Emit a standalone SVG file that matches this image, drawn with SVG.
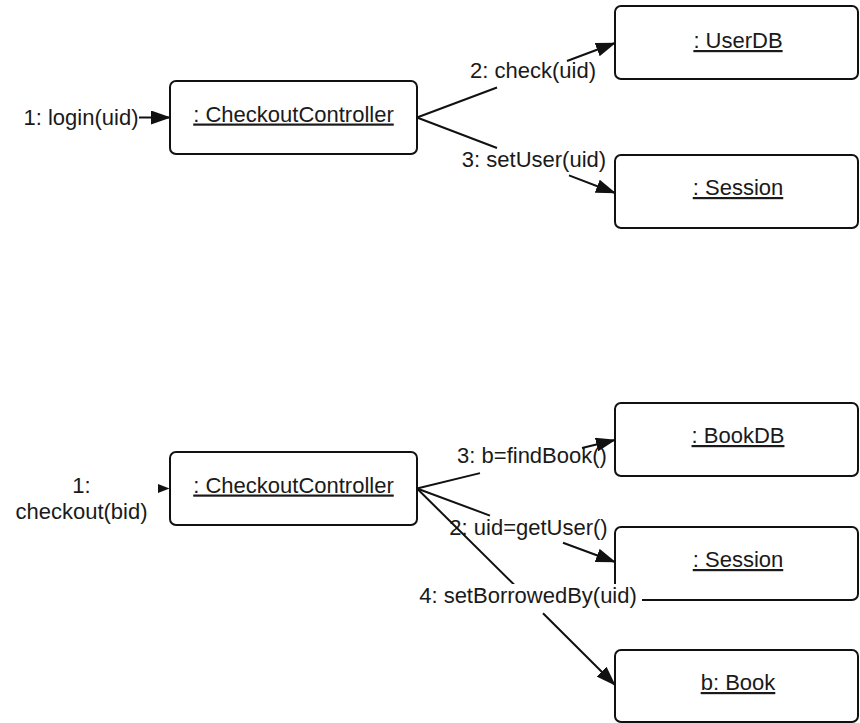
<svg xmlns="http://www.w3.org/2000/svg" width="860" height="723" viewBox="0 0 860 723">
<style>
.box{fill:#fff;stroke:#111;stroke-width:2}
.name{font-family:"Liberation Sans",Arial,sans-serif;font-size:22px;fill:#1a1a1a;text-anchor:middle;text-decoration:underline}
.lbl{font-family:"Liberation Sans",Arial,sans-serif;font-size:22px;fill:#1a1a1a;text-anchor:middle}
.con{fill:none;stroke:#111;stroke-width:2;marker-end:url(#arr)}
</style>
<defs>
<marker id="arr" viewBox="0 0 20 14" refX="19" refY="7" markerWidth="20" markerHeight="14" markerUnits="userSpaceOnUse" orient="auto">
<path d="M0,0 L20,7 L0,14 z" fill="#111"/>
</marker>
</defs>
<rect width="860" height="723" fill="#fff"/>

<g id="ctrl1"><rect class="box" x="170" y="81" width="247" height="73" rx="6"/><text class="name" x="293.5" y="121.5">: CheckoutController</text></g>
<g id="userdb"><rect class="box" x="615" y="6" width="243" height="73" rx="6"/><text class="name" x="738" y="48">: UserDB</text></g>
<g id="session1"><rect class="box" x="615" y="155" width="243" height="73" rx="6"/><text class="name" x="738" y="195">: Session</text></g>

<g id="ctrl2"><rect class="box" x="170" y="452" width="247" height="73" rx="6"/><text class="name" x="293.5" y="492.5">: CheckoutController</text></g>
<g id="bookdb"><rect class="box" x="615" y="403" width="243" height="73" rx="6"/><text class="name" x="738" y="443">: BookDB</text></g>
<g id="session2"><rect class="box" x="615" y="527" width="243" height="73" rx="6"/><text class="name" x="738" y="567">: Session</text></g>
<g id="book"><rect class="box" x="615" y="650" width="243" height="72" rx="6"/><text class="name" x="738" y="690">b: Book</text></g>

<g id="connectors">
<path class="con" d="M139,117.5 L170,117.5"/>
<text class="lbl" x="81" y="125">1: login(uid)</text>
<path class="con" d="M417,117.5 L497,87.5 M567,61 L615,43"/>
<text class="lbl" x="533" y="78">2: check(uid)</text>
<path class="con" d="M417,117.5 L497,148 M569,175.4 L615,193"/>
<text class="lbl" x="534" y="167">3: setUser(uid)</text>

<polygon points="158,484 169.5,488.5 158,493" fill="#111"/>
<text class="lbl" x="81.5" y="493">1:</text>
<text class="lbl" x="81.5" y="519">checkout(bid)</text>

<text class="lbl" x="532" y="463">3: b=findBook()</text>
<path class="con" d="M417,488.5 L480,473.1 M582,448 L615,440"/>
<text class="lbl" x="528.5" y="535">2: uid=getUser()</text>
<path class="con" d="M417,488.5 L490,515.6 M563,542.7 L615,562"/>
<path class="con" d="M417,488.5 L515,585.5 M543,613.3 L615,685"/>
<rect x="416" y="584" width="226" height="25" fill="#fff"/>
<text class="lbl" x="528" y="603">4: setBorrowedBy(uid)</text>
</g>
</svg>
